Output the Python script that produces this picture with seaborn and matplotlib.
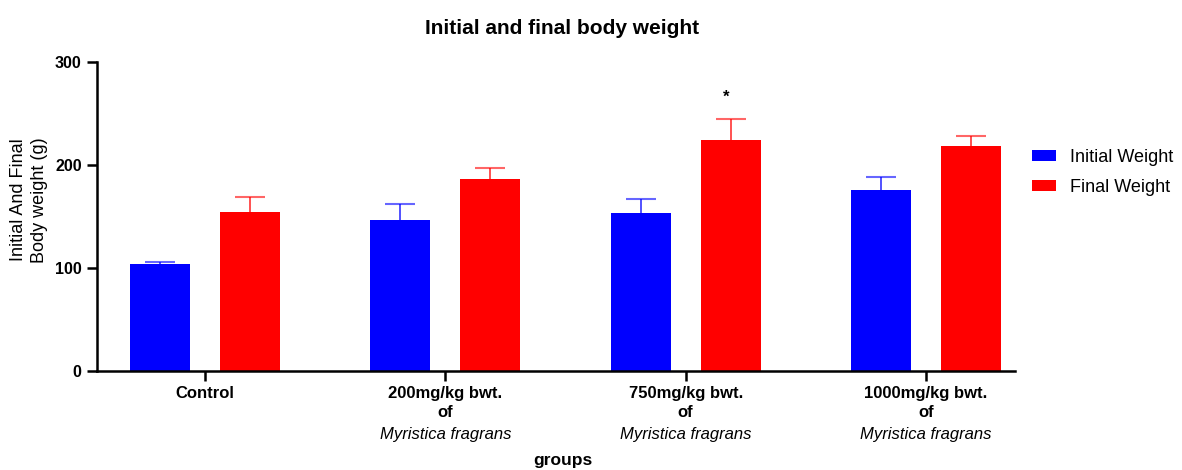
import numpy as np
import matplotlib.pyplot as plt
import pandas as pd
import seaborn as sns

# data
groups = ["Control", "200mg/kg bwt.", "750mg/kg bwt.", "1000mg/kg bwt."]
group_labels = ["Control", "200mg/kg bwt.\nof", "750mg/kg bwt.\nof", "1000mg/kg bwt.\nof"]
species = ["", "Myristica fragrans", "Myristica fragrans", "Myristica fragrans"]
series = ["Initial Weight", "Final Weight"]
initial_weight = [104, 147, 153, 176]
final_weight = [154, 186, 224, 218]
initial_err = [2, 15, 14, 12]
final_err = [15, 11, 21, 10]
star_group = "750mg/kg bwt."
star_value = 266

df = pd.DataFrame({
    "group": groups * 2,
    "weight": initial_weight + final_weight,
    "series": [series[0]] * len(groups) + [series[1]] * len(groups),
})
errs = [initial_err, final_err]
colors = ["#0000ff", "#ff0000"]

sns.set_style("ticks")
plt.rcParams["font.family"] = ["Liberation Sans", "DejaVu Sans"]
plt.rcParams["text.color"] = "black"
plt.rcParams["xtick.color"] = "black"
plt.rcParams["ytick.color"] = "black"
plt.rcParams["axes.edgecolor"] = "black"

W, H = 1182, 470
fig = plt.figure(figsize=(W / 100, H / 100), dpi=100)
ax = fig.add_axes([97 / W, 1 - 371 / H, (1015 - 97) / W, (371 - 62) / H])

sns.barplot(data=df, x="group", y="weight", hue="series", order=groups,
            hue_order=series, palette=colors, saturation=1, width=0.75, gap=1 / 3,
            errorbar=None, linewidth=0, ax=ax)

# one-sided error bars (upper only), same colour as the bars
for cont, err, col in zip(ax.containers, errs, colors):
    xs = np.array([b.get_x() + b.get_width() / 2 for b in cont])
    ys = np.array([b.get_height() for b in cont])
    ax.errorbar(xs, ys, yerr=[np.zeros(len(err)), err], fmt="none",
                ecolor=col, elinewidth=1.2, capsize=0, alpha=0.8)
    ax.plot(xs, ys + np.array(err), ls="none", marker="_", markersize=22,
            markeredgewidth=1.5, color=col, alpha=0.6)

# significance star
star_bar = ax.containers[1][groups.index(star_group)]
ax.text(star_bar.get_x() + star_bar.get_width() / 2 - 0.02, star_value, "*",
        ha="center", va="center", fontsize=12, fontweight="bold")

handles, labels = ax.get_legend_handles_labels()
ax.legend_.remove()
fig.legend(handles, labels, loc="upper left", bbox_to_anchor=(1032 / W, 1 - 149 / H),
           frameon=False, fontsize=13, handlelength=1.33, handleheight=0.6,
           handletextpad=0.75, labelspacing=0.72, borderpad=0, borderaxespad=0)

ax.set_ylim(0, 300)
ax.set_yticks([0, 100, 200, 300])
ax.set_xlim(-0.449, 3.37)
ax.set_xticks(range(len(groups)))
ax.set_xticklabels(group_labels, fontweight="bold", fontsize=12, linespacing=1.35)
for lab in ax.get_yticklabels():
    lab.set_fontweight("bold")
    lab.set_fontsize(11.5)
for i, sp in enumerate(species):
    if sp:
        ax.text(i, (371 - 439) / 309, sp, transform=ax.get_xaxis_transform(),
                ha="center", va="baseline", fontsize=12, style="italic")

ax.set_xlabel("")
ax.set_ylabel("")
sns.despine(ax=ax)
for s in ["left", "bottom"]:
    ax.spines[s].set_linewidth(1.8)
ax.tick_params(axis="both", width=1.8, length=7, color="black", pad=4)

fig.text(562 / W, 1 - 28 / H, "Initial and final body weight", ha="center",
         va="center", fontsize=15, fontweight="bold")
fig.text(29 / W, 1 - 200 / H, "Initial And Final\nBody weight (g)", rotation=90,
         ha="center", va="center", fontsize=13, linespacing=1.3,
         multialignment="center")
fig.text(563 / W, 1 - 460 / H, "groups", ha="center", va="center",
         fontsize=12.5, fontweight="bold")

fig.savefig("out.png", dpi=100)
